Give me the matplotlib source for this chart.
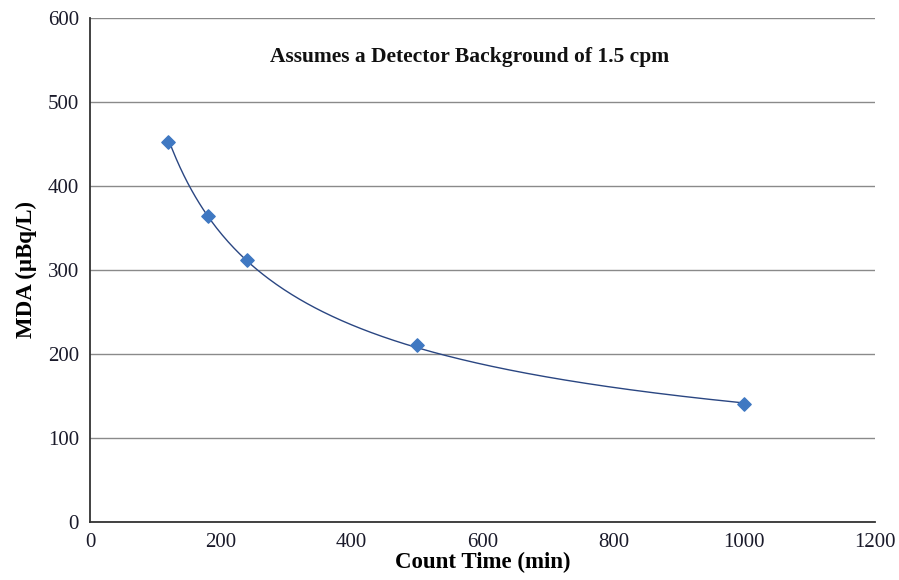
import numpy as np
import matplotlib.pyplot as plt

# Data
count_time = [120, 180, 240, 500, 1000]
mda = [452, 364, 312, 211, 140]
x_ticks = [0, 200, 400, 600, 800, 1000, 1200]
y_ticks = [0, 100, 200, 300, 400, 500, 600]

plt.rcParams['font.family'] = ['Liberation Serif', 'DejaVu Serif']

fig = plt.figure(figsize=(8.99, 5.8), dpi=100)
ax = fig.add_axes([0.1001, 0.1, 0.8732, 0.869])

# power trendline fitted to the points (like a spreadsheet trendline)
b, log_a = np.polyfit(np.log(count_time), np.log(mda), 1)
xs = np.linspace(min(count_time), max(count_time), 300)
ax.plot(xs, np.exp(log_a) * xs ** b, color='#2a4682', lw=1.0, zorder=3)

ax.scatter(count_time, mda, marker='D', s=46, color='#3f78c2', zorder=4)

ax.set_xlim(0, 1200)
ax.set_ylim(0, 600)
ax.set_xticks(x_ticks)
ax.set_yticks(y_ticks)
ax.yaxis.grid(True, color='#8a8a8a', lw=1.0)
ax.set_axisbelow(True)
for side in ['top', 'right']:
    ax.spines[side].set_visible(False)
for side in ['left', 'bottom']:
    ax.spines[side].set_color('#333333')
    ax.spines[side].set_linewidth(1.3)
ax.tick_params(length=0, labelsize=15, colors='#1a1a2a')
ax.tick_params(axis='x', pad=8)
ax.tick_params(axis='y', pad=8)

ax.set_xlabel('Count Time (min)', fontsize=16.5, fontweight='bold', labelpad=0)
ax.set_ylabel('MDA (\u00b5Bq/L)', fontsize=16.5, fontweight='bold', labelpad=8)

ax.text(0.483, 0.922, 'Assumes a Detector Background of 1.5 cpm', transform=ax.transAxes,
        ha='center', va='center', fontsize=15.5, fontweight='bold', color='#111111')

fig.savefig('out.png', dpi=100)
